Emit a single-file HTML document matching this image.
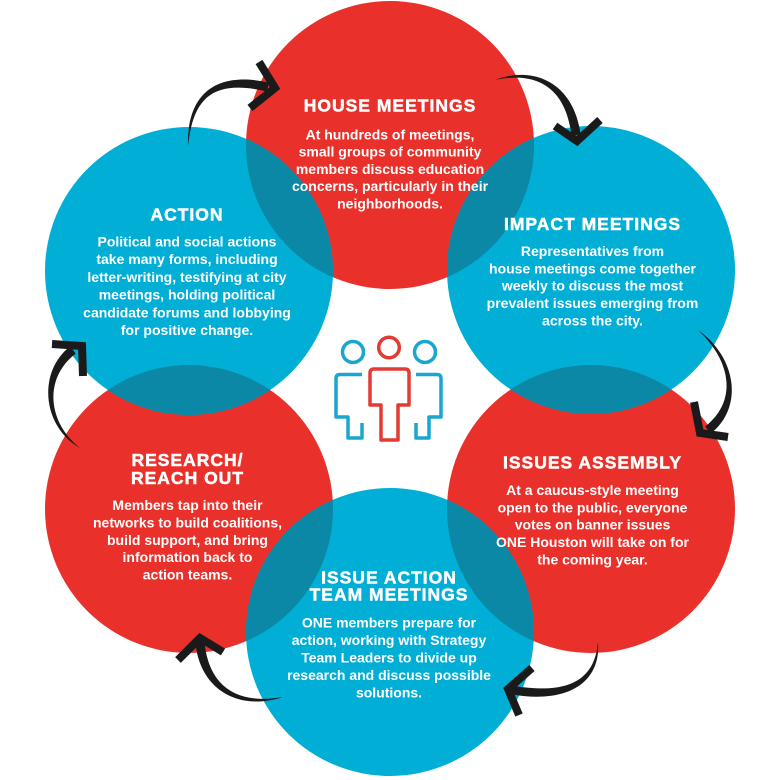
<!DOCTYPE html>
<html>
<head>
<meta charset="utf-8">
<style>
  html, body { margin: 0; padding: 0; background: #ffffff; }
  svg { display: block; }
  .t { font-family: "Liberation Sans", Arial, sans-serif; font-weight: bold; fill: #ffffff; text-anchor: middle; }
  .h { font-size: 17.5px; letter-spacing: 1px; stroke: #ffffff; stroke-width: 0.5px; }
  .b { font-size: 14px; }
</style>
</head>
<body>
<svg width="780" height="780" viewBox="0 0 780 780" xmlns="http://www.w3.org/2000/svg">
  <defs>
    <clipPath id="reds">
      <circle cx="390" cy="145" r="144"/>
      <circle cx="591" cy="509" r="144"/>
      <circle cx="189" cy="509" r="144"/>
    </clipPath>
  </defs>
  <rect x="0" y="0" width="780" height="780" fill="#ffffff"/>

  <!-- red circles -->
  <circle cx="390" cy="145" r="144" fill="#e9302a"/>
  <circle cx="591" cy="509" r="144" fill="#e9302a"/>
  <circle cx="189" cy="509" r="144" fill="#e9302a"/>
  <!-- blue circles -->
  <circle cx="591" cy="270" r="144" fill="#00aed6"/>
  <circle cx="390" cy="632" r="144" fill="#00aed6"/>
  <circle cx="189" cy="271" r="144" fill="#00aed6"/>
  <!-- overlaps -->
  <g clip-path="url(#reds)" fill="#0b88a5">
    <circle cx="591" cy="270" r="144"/>
    <circle cx="390" cy="632" r="144"/>
    <circle cx="189" cy="271" r="144"/>
  </g>

  <!-- center icon -->
  <g fill="none" stroke-width="3.5" stroke-linejoin="round">
    <g stroke="#1ba6cf">
      <circle cx="353" cy="352" r="10.5"/>
      <path d="M362 374.5 H340 Q336 374.5 336 378.5 V417 H348 V438 H362 V423"/>
      <circle cx="425" cy="352" r="10.5"/>
      <path d="M416 374.5 H437 Q441 374.5 441 378.5 V417 H429 V438 H416 V423"/>
    </g>
    <g stroke="#e33b34">
      <circle cx="389" cy="347.5" r="10.3"/>
      <path d="M374 369 H405 Q409 369 409 373 V405 H398 V440 H381 V405 H370 V373 Q370 369 374 369 Z"/>
    </g>
  </g>

  <!-- arrows -->
  <g fill="#1a1a1a">
    <path d="M188 146 C193.3 96.2 214 79.4 267 91.4 L269 82.6 C216 70.6 186.7 93.8 188 146 Z"/>
    <path d="M495 80 C535.2 64.5 574.5 84.5 580.5 134.5 L571.5 135.5 C565.5 85.5 534.8 71.5 495 80 Z"/>
    <path d="M698 330 C738 358.3 742.8 408.5 710.8 433.5 L705.2 426.5 C737.2 401.5 732 361.7 698 330 Z"/>
    <path d="M598 642 C601.2 681.5 569.2 704.4 511.2 694.4 L512.8 685.6 C570.8 695.6 594.8 678.5 598 642 Z"/>
    <path d="M283 697 C239.7 711.5 200.5 690.5 195.5 643.5 L204.5 642.5 C209.5 689.5 240.3 704.5 283 697 Z"/>
    <path d="M80 448 C41.9 426.7 37.3 371.4 70.3 346.4 L75.7 353.6 C42.7 378.6 48.1 423.3 80 448 Z"/>
  </g>
  <g fill="none" stroke="#1a1a1a" stroke-width="8" stroke-linejoin="miter" stroke-miterlimit="10">
    <polyline points="259,62 275,88 250,108"/>
    <polyline points="555,126 577,141 600,120"/>
    <polyline points="694,402 700,433 728,437"/>
    <polyline points="532,668 508,689 519,715"/>
    <polyline points="178,660 200,638 223,652"/>
    <polyline points="52,344 82,346 83,376"/>
  </g>

  <!-- HOUSE MEETINGS -->
  <g class="t">
    <text class="h" x="390" y="111.5">HOUSE MEETINGS</text>
    <text class="b" x="390" y="139.5">At hundreds of meetings,</text>
    <text class="b" x="390" y="156.7">small groups of community</text>
    <text class="b" x="390" y="173.9">members discuss education</text>
    <text class="b" x="390" y="191.1">concerns, particularly in their</text>
    <text class="b" x="390" y="208.3">neighborhoods.</text>
  </g>

  <!-- IMPACT MEETINGS -->
  <g class="t">
    <text class="h" x="592.5" y="230">IMPACT MEETINGS</text>
    <text class="b" x="592.5" y="256">Representatives from</text>
    <text class="b" x="592.5" y="273.3">house meetings come together</text>
    <text class="b" x="592.5" y="290.7">weekly to discuss the most</text>
    <text class="b" x="592.5" y="308.2">prevalent issues emerging from</text>
    <text class="b" x="592.5" y="325.6">across the city.</text>
  </g>

  <!-- ISSUES ASSEMBLY -->
  <g class="t">
    <text class="h" x="592.5" y="468.3">ISSUES ASSEMBLY</text>
    <text class="b" x="592.5" y="495">At a caucus-style meeting</text>
    <text class="b" x="592.5" y="512.3">open to the public, everyone</text>
    <text class="b" x="592.5" y="529.6">votes on banner issues</text>
    <text class="b" x="592.5" y="547">ONE Houston will take on for</text>
    <text class="b" x="592.5" y="564.3">the coming year.</text>
  </g>

  <!-- ISSUE ACTION TEAM MEETINGS -->
  <g class="t">
    <text class="h" x="389" y="583.3">ISSUE ACTION</text>
    <text class="h" x="389" y="600.3">TEAM MEETINGS</text>
    <text class="b" x="389" y="627.3">ONE members prepare for</text>
    <text class="b" x="389" y="644.8">action, working with Strategy</text>
    <text class="b" x="389" y="662.3">Team Leaders to divide up</text>
    <text class="b" x="389" y="679.8">research and discuss possible</text>
    <text class="b" x="389" y="697.3">solutions.</text>
  </g>

  <!-- RESEARCH / REACH OUT -->
  <g class="t">
    <text class="h" x="187.5" y="466">RESEARCH/</text>
    <text class="h" x="187.5" y="484">REACH OUT</text>
    <text class="b" x="187.5" y="510">Members tap into their</text>
    <text class="b" x="187.5" y="527.4">networks to build coalitions,</text>
    <text class="b" x="187.5" y="544.8">build support, and bring</text>
    <text class="b" x="187.5" y="562.2">information back to</text>
    <text class="b" x="187.5" y="579.6">action teams.</text>
  </g>

  <!-- ACTION -->
  <g class="t">
    <text class="h" x="187" y="220.7">ACTION</text>
    <text class="b" x="187" y="246.7">Political and social actions</text>
    <text class="b" x="187" y="264.1">take many forms, including</text>
    <text class="b" x="187" y="281.9">letter-writing, testifying at city</text>
    <text class="b" x="187" y="299.6">meetings, holding political</text>
    <text class="b" x="187" y="317.3">candidate forums and lobbying</text>
    <text class="b" x="187" y="335">for positive change.</text>
  </g>
</svg>
</body>
</html>
